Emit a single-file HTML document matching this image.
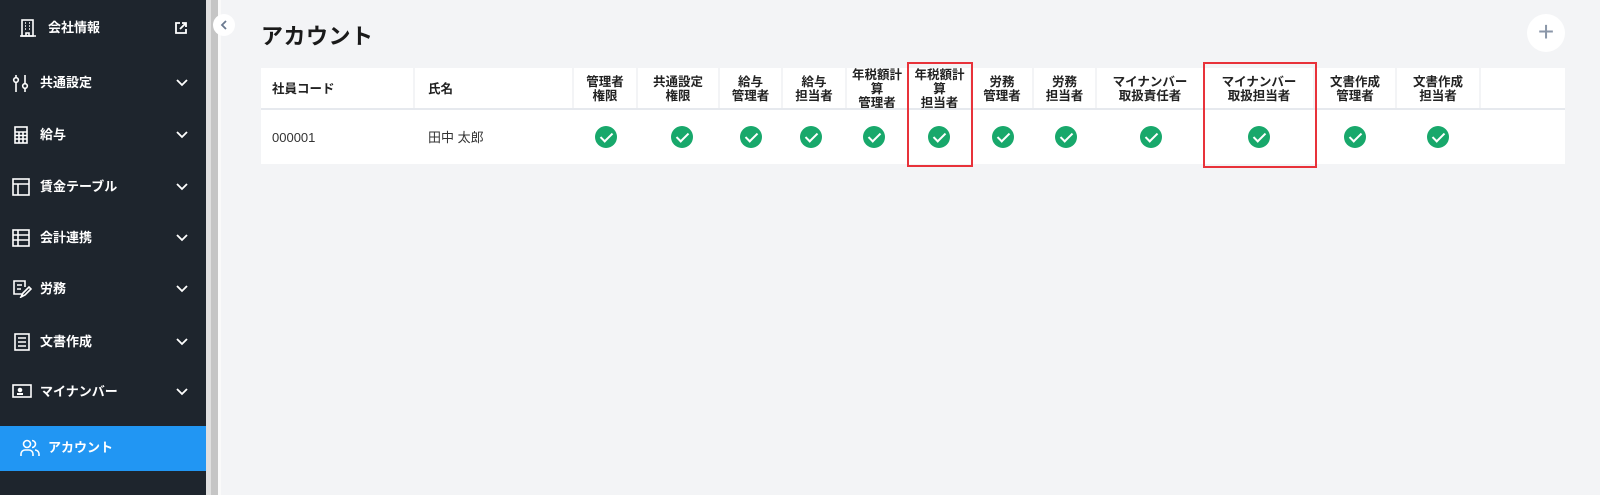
<!DOCTYPE html>
<html><head><meta charset="utf-8">
<style>
*{margin:0;padding:0;box-sizing:border-box}
body{width:1600px;height:495px;background:#f3f4f6;font-family:"Liberation Sans","Noto Sans CJK JP",sans-serif;position:relative;overflow:hidden;color:#222}
.sb{position:absolute;left:0;top:0;width:206px;height:495px;background:#1e252d}
.item{position:absolute;left:0;width:206px;height:20px;color:#fff;font-size:13px;font-weight:bold;line-height:20px}
.item .t{position:absolute;left:40px;top:0}
.item svg.ic{position:absolute;left:12px;top:1px}
.chev{position:absolute;left:174px;top:3px}
.act{position:absolute;left:0;top:426px;width:206px;height:45px;background:#2196f3}
.strip1{position:absolute;left:206px;top:0;width:5px;height:495px;background:#e0e0e0}
.strip2{position:absolute;left:211px;top:0;width:7px;height:495px;background:#c5c5c5}
.strip3{position:absolute;left:218px;top:0;width:3px;height:495px;background:#fafafa}
.coll{position:absolute;left:213px;top:14px;width:22px;height:22px;border-radius:50%;background:#fff}
h1{position:absolute;left:261px;top:19px;font-size:22px;font-weight:bold;color:#1a1a1a;letter-spacing:0.5px}
.plus{position:absolute;left:1527px;top:14px;width:38px;height:38px;border-radius:50%;background:#fff;color:#8a96a8;font-size:28px;line-height:36px;text-align:center;font-weight:300}
.tbl{position:absolute;left:261px;top:68px;width:1304px;height:96px;background:#fff}
.hd{position:absolute;top:68px;height:41px;border-right:2px solid #f3f4f6;font-size:12.5px;font-weight:bold;display:flex;align-items:center;justify-content:center;text-align:center;line-height:14px;color:#222}
.hl{position:absolute;left:261px;top:108px;width:1304px;height:2px;background:#e6e9ee}
.ck{position:absolute;top:126px;width:22px;height:22px;border-radius:50%;background:#18a86b}
.ck:after{content:"";position:absolute;left:8px;top:4px;width:5px;height:10px;border:solid #fff;border-width:0 2.5px 2.5px 0;transform:rotate(45deg)}
.red{position:absolute;border:2px solid #e8323a}
.cell{position:absolute;top:128px;height:20px;line-height:20px;font-size:13px;color:#333}
</style></head><body>
<div class="sb">
 <div class="item" style="top:18px"><svg class="ic" style="left:20px" width="16" height="18" viewBox="0 0 16 18" fill="none" stroke="#fff" stroke-width="1.6"><rect x="2" y="1" width="11" height="16"/><path d="M0 17h16M5 4h1M9 4h1M5 7h1M9 7h1M5 10h1M9 10h1M6 17v-3h3v3"/></svg><span class="t" style="left:48px">会社情報</span><svg class="chev" width="14" height="14" viewBox="0 0 14 14" fill="none" stroke="#fff" stroke-width="1.8"><path d="M6 2H2v10h10V8M8 2h4v4M12 2L6 8"/></svg></div>
 <div class="item" style="top:73px"><svg class="ic" width="18" height="18" viewBox="0 0 18 18" fill="none" stroke="#fff" stroke-width="1.6"><path d="M4 1v17M13 1v17"/><circle cx="4" cy="6" r="2.3" fill="#1e252d"/><circle cx="13" cy="12" r="2.3" fill="#1e252d"/></svg><span class="t">共通設定</span></div>
 <div class="item" style="top:125px"><svg class="ic" style="left:14px" width="14" height="18" viewBox="0 0 14 18" fill="none" stroke="#fff" stroke-width="1.6"><rect x="1" y="1" width="12" height="16"/><path d="M1 6h12M1 9.5h12M1 13h12M5 6v11M9 6v11"/></svg><span class="t">給与</span></div>
 <div class="item" style="top:177px"><svg class="ic" width="18" height="18" viewBox="0 0 18 18" fill="none" stroke="#fff" stroke-width="1.6"><rect x="1" y="1" width="16" height="16"/><path d="M1 6h16M6 6v11"/></svg><span class="t">賃金テーブル</span></div>
 <div class="item" style="top:228px"><svg class="ic" width="18" height="18" viewBox="0 0 18 18" fill="none" stroke="#fff" stroke-width="1.6"><rect x="1" y="1" width="16" height="16"/><path d="M1 6h16M1 11h16M6 1v16"/></svg><span class="t">会計連携</span></div>
 <div class="item" style="top:279px"><svg class="ic" width="20" height="18" viewBox="0 0 20 18" fill="none" stroke="#fff" stroke-width="1.6"><path d="M11 14H2V1h11v6M5 5h5M5 9h4M9 17l2-4 6-6 2 2-6 6z"/></svg><span class="t">労務</span></div>
 <div class="item" style="top:332px"><svg class="ic" style="left:14px" width="16" height="18" viewBox="0 0 16 18" fill="none" stroke="#fff" stroke-width="1.6"><rect x="1" y="1" width="14" height="16"/><path d="M4 5h8M4 9h8M4 13h8"/></svg><span class="t">文書作成</span></div>
 <div class="item" style="top:382px"><svg class="ic" width="20" height="16" viewBox="0 0 20 16" fill="none" stroke="#fff" stroke-width="1.6"><rect x="1" y="2" width="18" height="12"/><path d="M5 11h6" stroke-width="2"/><circle cx="8" cy="7" r="1.5" fill="#fff"/></svg><span class="t">マイナンバー</span></div>
 <div class="act"></div>
 <div class="item" style="top:438px"><svg class="ic" style="left:20px" width="20" height="18" viewBox="0 0 20 18" fill="none" stroke="#fff" stroke-width="1.6"><circle cx="7" cy="5" r="3.5"/><path d="M1 17v-2a4 4 0 0 1 4-4h4a4 4 0 0 1 4 4v2M12 1.5a3.5 3.5 0 0 1 0 7M15 11a4 4 0 0 1 4 4v2"/></svg><span class="t" style="left:48px">アカウント</span></div>
</div>
<svg style="position:absolute;left:0;top:0" width="206" height="495">
 <g fill="none" stroke="#fff" stroke-width="1.8">
 <path d="M177 80l5 5 5-5M177 132l5 5 5-5M177 184l5 5 5-5M177 235l5 5 5-5M177 286l5 5 5-5M177 339l5 5 5-5M177 389l5 5 5-5"/>
 </g>
</svg>
<div class="strip1"></div><div class="strip2"></div><div class="strip3"></div>
<div class="coll"><svg width="22" height="22"><path d="M13 7l-4 4 4 4" fill="none" stroke="#6b7a90" stroke-width="1.8"/></svg></div>
<h1>アカウント</h1>
<div class="plus">+</div>
<div class="tbl"></div>
<div class="hd" style="left:261px;width:154px;justify-content:flex-start;padding-left:11px">社員コード</div>
<div class="hd" style="left:415px;width:159px;justify-content:flex-start;padding-left:13px">氏名</div>
<div class="hd" style="left:574px;width:64px">管理者<br>権限</div>
<div class="hd" style="left:638px;width:82px">共通設定<br>権限</div>
<div class="hd" style="left:720px;width:63px">給与<br>管理者</div>
<div class="hd" style="left:783px;width:64px">給与<br>担当者</div>
<div class="hd" style="left:847px;width:62px">年税額計<br>算<br>管理者</div>
<div class="hd" style="left:909px;width:63px">年税額計<br>算<br>担当者</div>
<div class="hd" style="left:972px;width:62px">労務<br>管理者</div>
<div class="hd" style="left:1034px;width:63px">労務<br>担当者</div>
<div class="hd" style="left:1097px;width:108px">マイナンバー<br>取扱責任者</div>
<div class="hd" style="left:1205px;width:110px">マイナンバー<br>取扱担当者</div>
<div class="hd" style="left:1315px;width:82px">文書作成<br>管理者</div>
<div class="hd" style="left:1397px;width:84px">文書作成<br>担当者</div>
<div class="hl"></div>
<div class="cell" style="left:272px">000001</div>
<div class="cell" style="left:428px">田中 太郎</div>
<div class="ck" style="left:595px"></div>
<div class="ck" style="left:671px"></div>
<div class="ck" style="left:740px"></div>
<div class="ck" style="left:800px"></div>
<div class="ck" style="left:863px"></div>
<div class="ck" style="left:928px"></div>
<div class="ck" style="left:992px"></div>
<div class="ck" style="left:1055px"></div>
<div class="ck" style="left:1140px"></div>
<div class="ck" style="left:1248px"></div>
<div class="ck" style="left:1344px"></div>
<div class="ck" style="left:1427px"></div>
<div class="red" style="left:907px;top:62px;width:66px;height:105px"></div>
<div class="red" style="left:1203px;top:62px;width:114px;height:106px"></div>
</body></html>
